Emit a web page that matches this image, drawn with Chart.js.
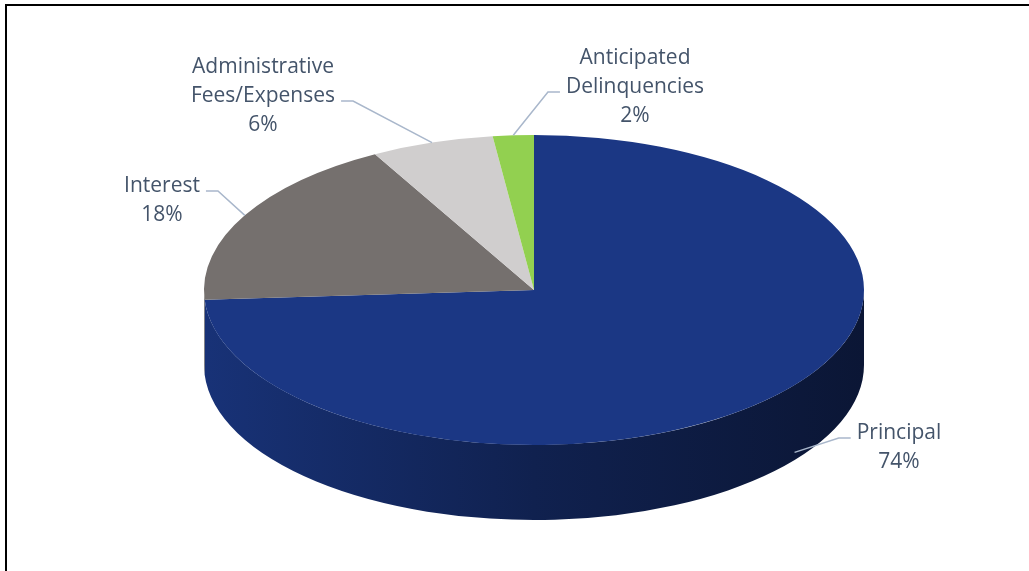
<!DOCTYPE html>
<html>
<head>
<meta charset="utf-8">
<script src="https://cdn.jsdelivr.net/npm/chart.js@4.4.1/dist/chart.umd.min.js"></script>
<style>
    body { margin: 0; background: #fff; }
    #wrap { position: relative; width: 1029px; height: 571px; overflow: hidden; }
    #frame { position: absolute; left: 5px; top: 4px; width: 1100px; height: 700px;
             border-top: 2px solid #000; border-left: 2px solid #000; pointer-events: none; }
</style>
</head>
<body>
<div id="wrap">
    <canvas id="pie"></canvas>
    <div id="frame"></div>
</div>
<script>
// slices, clockwise from 12 o'clock
const categories = ['Principal', 'Interest', 'Administrative\nFees/Expenses', 'Anticipated\nDelinquencies'];
const shares = [74, 18, 6, 2];
const sliceColors = ['#1b3784', '#75706e', '#d0cece', '#92d050'];

// look of the tilted disc
const RX = 330, RY = 155, DEPTH = 75;
const LINE_H = 29;

// where each label sits (centre x, first baseline) and which line the leader hooks on
const labelBoxes = [
    { x: 899, y: 439, hook: 0, side: 'left' },
    { x: 162, y: 192, hook: 0, side: 'right' },
    { x: 263, y: 73, hook: 1, side: 'right' },
    { x: 635, y: 64, hook: 1, side: 'left' }
];

function shade(hex, f) {
    const n = parseInt(hex.slice(1), 16);
    const r = Math.round(((n >> 16) & 255) * f);
    const g = Math.round(((n >> 8) & 255) * f);
    const b = Math.round((n & 255) * f);
    return `rgb(${r},${g},${b})`;
}

const pie3d = {
    id: 'pie3d',
    beforeDatasetsDraw(chart) {
        const ctx = chart.ctx;
        const arcs = chart.getDatasetMeta(0).data;
        const { x: cx, y: cy, outerRadius: r } = arcs[0];

        // side wall, only the front half is visible
        arcs.forEach((arc, i) => {
            [[0, Math.PI], [2 * Math.PI, 3 * Math.PI]].forEach(([lo, hi]) => {
                const a = Math.max(arc.startAngle, lo);
                const b = Math.min(arc.endAngle, hi);
                if (b <= a)
                    return;
                ctx.beginPath();
                ctx.ellipse(cx, cy, RX, RY, 0, a, b);
                ctx.ellipse(cx, cy + DEPTH, RX, RY, 0, b, a, true);
                ctx.closePath();
                const g = ctx.createLinearGradient(cx - RX, 0, cx + RX, 0);
                g.addColorStop(0, shade(sliceColors[i], 0.9));
                g.addColorStop(0.5, shade(sliceColors[i], 0.6));
                g.addColorStop(1, shade(sliceColors[i], 0.4));
                ctx.fillStyle = g;
                ctx.fill();
            });
        });

        // squash the top face into an ellipse
        ctx.save();
        ctx.translate(cx, cy);
        ctx.scale(RX / r, RY / r);
        ctx.translate(-cx, -cy);
    },
    afterDatasetsDraw(chart) {
        chart.ctx.restore();
    },
    afterDraw(chart) {
        const ctx = chart.ctx;
        const arcs = chart.getDatasetMeta(0).data;
        const { x: cx, y: cy } = arcs[0];
        ctx.save();
        ctx.font = '21px "Open Sans"';
        ctx.textAlign = 'center';
        ctx.textBaseline = 'alphabetic';

        arcs.forEach((arc, i) => {
            const box = labelBoxes[i];
            const lines = categories[i].split('\n').concat(shares[i] + '%');

            const m = (arc.startAngle + arc.endAngle) / 2;
            const front = Math.sin(m) > 0;
            const ax = cx + RX * Math.cos(m) + (front ? 20 : 0);
            const ay = cy + RY * Math.sin(m) + (front ? DEPTH * 0.75 : 0);

            const w = ctx.measureText(lines[box.hook]).width;
            const dir = box.side === 'right' ? 1 : -1;
            const hx = box.x + dir * (w / 2 + 6);
            const hy = box.y + box.hook * LINE_H - 1;

            ctx.strokeStyle = '#a9b7cb';
            ctx.lineWidth = 1.5;
            ctx.beginPath();
            ctx.moveTo(hx, hy);
            ctx.lineTo(hx + dir * 12, hy);
            ctx.lineTo(ax, ay);
            ctx.stroke();

            ctx.fillStyle = '#44546a';
            lines.forEach((t, j) => ctx.fillText(t, box.x, box.y + j * LINE_H));
        });
        ctx.restore();
    }
};

new Chart(document.getElementById('pie'), {
    type: 'pie',
    data: {
        labels: categories,
        datasets: [{ data: shares, backgroundColor: sliceColors, borderWidth: 0 }]
    },
    options: {
        responsive: true,
        maintainAspectRatio: false,
        animation: false,
        events: [],
        layout: {
            padding: { left: 40, right: 1, top: 10, bottom: 1 }
        },
        plugins: {
            legend: { display: false },
            tooltip: { enabled: false }
        }
    },
    plugins: [pie3d]
});
</script>
</body>
</html>
